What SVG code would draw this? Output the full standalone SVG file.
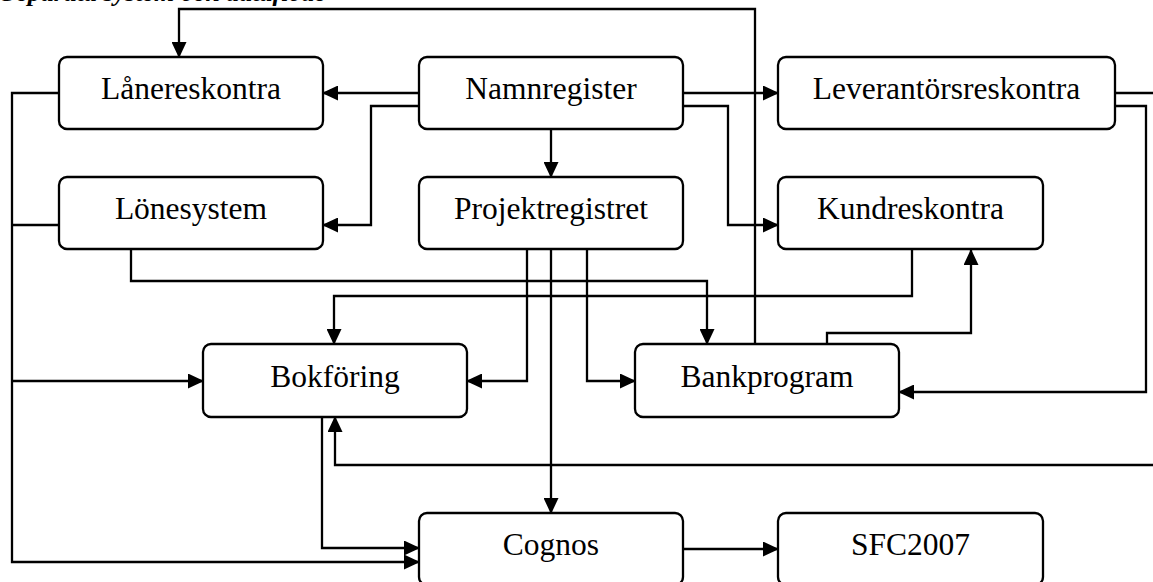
<svg xmlns="http://www.w3.org/2000/svg" width="1153" height="582" viewBox="0 0 1153 582">
  <style>
    .box { fill: #ffffff; stroke: #000000; stroke-width: 2.3; }
    .lbl { font-family: "Liberation Serif", "Times New Roman", serif; font-size: 31.5px; fill: #000000; text-anchor: middle; }
    .title { font-family: "Liberation Serif", "Times New Roman", serif; font-size: 26px; font-weight: bold; font-style: italic; fill: #000000; }
    .wire { fill: none; stroke: #000000; stroke-width: 2.3; stroke-linejoin: miter; }
    .arr { marker-end: url(#head); }
  </style>
  <defs>
    <marker id="head" viewBox="0 0 16 15" markerWidth="16" markerHeight="15" refX="15" refY="7.5" orient="auto" markerUnits="userSpaceOnUse">
      <path d="M0,0 L16,7.5 L0,15 Z" fill="#000000"/>
    </marker>
  </defs>

  <rect width="1153" height="582" fill="#ffffff"/>

  <!-- heading, clipped by the top edge -->
  <text class="title" x="326" y="1" text-anchor="end">Separata system och dataflöde</text>

  <g id="connectors">
    <!-- Bankprogram up and over to Lånereskontra -->
    <path class="wire arr" d="M755,344 V9 H179 V57"/>
    <!-- Bankprogram to Kundreskontra -->
    <path class="wire arr" d="M827,344 V333 H971 V250"/>
    <!-- Namnregister to Lånereskontra -->
    <path class="wire arr" d="M419,93 H323"/>
    <!-- Namnregister to Lönesystem -->
    <path class="wire arr" d="M419,106 H371 V225 H323"/>
    <!-- Namnregister to Leverantörsreskontra -->
    <path class="wire arr" d="M683,93 H778"/>
    <!-- Namnregister to Kundreskontra -->
    <path class="wire arr" d="M683,106 H728 V225 H778"/>
    <!-- Namnregister to Projektregistret -->
    <path class="wire arr" d="M551,129 V177"/>
    <!-- Leverantörsreskontra out past the right edge -->
    <path class="wire" d="M1115,93 H1160"/>
    <!-- Leverantörsreskontra to Bankprogram -->
    <path class="wire arr" d="M1115,106 H1146 V392 H899"/>
    <!-- return from the right edge into Bokföring -->
    <path class="wire arr" d="M1160,465 H335 V417"/>
    <!-- left trunk: Lånereskontra / Lönesystem to Bokföring and Cognos -->
    <path class="wire arr" d="M59,93 H12 V562 H419"/>
    <path class="wire" d="M59,225 H12"/>
    <path class="wire arr" d="M12,381 H203"/>
    <!-- Bokföring to Cognos -->
    <path class="wire arr" d="M322,417 V548 H419"/>
    <!-- Lönesystem to Bankprogram -->
    <path class="wire arr" d="M131,249 V281 H707 V344"/>
    <!-- Kundreskontra to Bokföring -->
    <path class="wire arr" d="M912,249 V296 H334 V344"/>
    <!-- Projektregistret to Bokföring, Cognos, Bankprogram -->
    <path class="wire arr" d="M527,249 V381 H467"/>
    <path class="wire arr" d="M551,249 V513"/>
    <path class="wire arr" d="M587,249 V381 H635"/>
    <!-- Cognos to SFC2007 -->
    <path class="wire arr" d="M683,549 H778"/>
  </g>

  <g id="lanereskontra">
    <rect class="box" x="59" y="57" width="264" height="72" rx="8"/>
    <text class="lbl" x="191" y="99">Lånereskontra</text>
  </g>
  <g id="namnregister">
    <rect class="box" x="419" y="57" width="264" height="72" rx="8"/>
    <text class="lbl" x="551" y="99">Namnregister</text>
  </g>
  <g id="leverantorsreskontra">
    <rect class="box" x="778" y="57" width="337" height="72" rx="8"/>
    <text class="lbl" x="946.5" y="99">Leverantörsreskontra</text>
  </g>
  <g id="lonesystem">
    <rect class="box" x="59" y="177" width="264" height="72" rx="8"/>
    <text class="lbl" x="191" y="219">Lönesystem</text>
  </g>
  <g id="projektregistret">
    <rect class="box" x="419" y="177" width="264" height="72" rx="8"/>
    <text class="lbl" x="551" y="219">Projektregistret</text>
  </g>
  <g id="kundreskontra">
    <rect class="box" x="778" y="177" width="265" height="72" rx="8"/>
    <text class="lbl" x="910.5" y="219">Kundreskontra</text>
  </g>
  <g id="bokforing">
    <rect class="box" x="203" y="344" width="264" height="73" rx="8"/>
    <text class="lbl" x="335" y="387">Bokföring</text>
  </g>
  <g id="bankprogram">
    <rect class="box" x="635" y="344" width="264" height="73" rx="8"/>
    <text class="lbl" x="767" y="387">Bankprogram</text>
  </g>
  <g id="cognos">
    <rect class="box" x="419" y="513" width="264" height="72" rx="8"/>
    <text class="lbl" x="551" y="555">Cognos</text>
  </g>
  <g id="sfc2007">
    <rect class="box" x="778" y="513" width="265" height="72" rx="8"/>
    <text class="lbl" x="910.5" y="555">SFC2007</text>
  </g>
</svg>
